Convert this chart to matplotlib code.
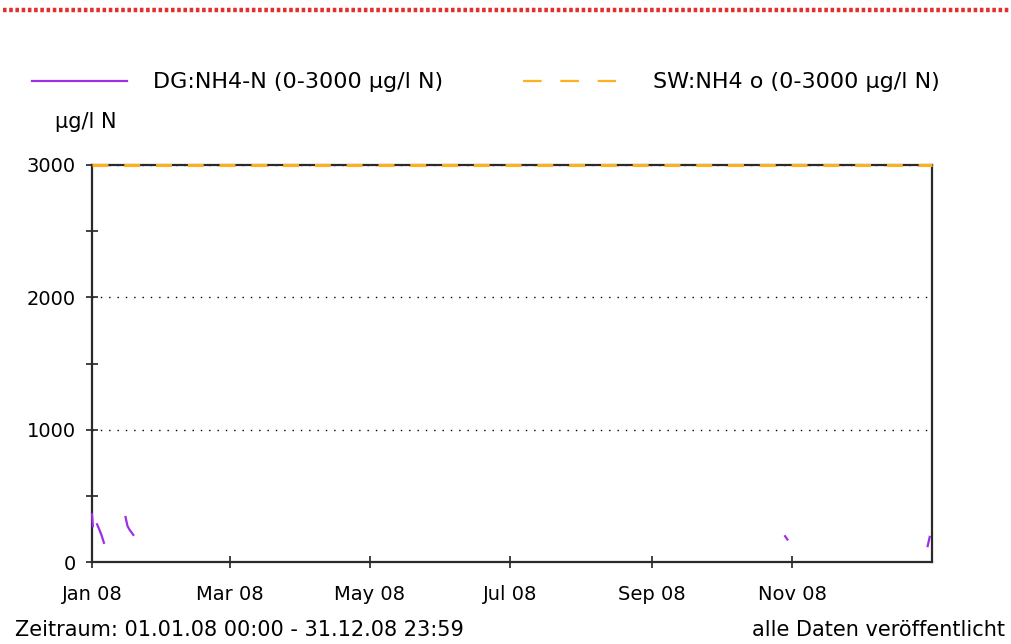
import numpy as np
import pandas as pd
import matplotlib
matplotlib.use('Agg')
import matplotlib.pyplot as plt
import matplotlib.dates as mdates
from matplotlib.lines import Line2D

# ==========================================
# Data
# ==========================================
start = pd.Timestamp('2008-01-01 00:00')
end = pd.Timestamp('2008-12-31 23:59')

# DG:NH4-N, days since 01.01.08, NaN = gap in the record
dg_days = [0.0, 0.4, np.nan, 2.2, 3.2, 4.2, 5.2, np.nan,
           14.6, 15.5, 16.5, 18.0, np.nan, 302.0, 303.0, np.nan, 364.1, 365.0]
dg_vals = [360, 270, np.nan, 285, 245, 200, 145, np.nan,
           340, 270, 240, 205, np.nan, 195, 170, np.nan, 120, 190]

# SW:NH4 o threshold
sw_dates = [start, end]
sw_vals = [3000, 3000]

y_major = [0, 1000, 2000, 3000]
y_minor = [500, 1500, 2500]
tick_months = [1, 3, 5, 7, 9, 11]

label_dg = 'DG:NH4-N (0-3000 µg/l N)'
label_sw = 'SW:NH4 o (0-3000 µg/l N)'
unit_label = 'µg/l N'
period_text = 'Zeitraum: 01.01.08 00:00 - 31.12.08 23:59'
status_text = 'alle Daten veröffentlicht'

# ==========================================
# Plot
# ==========================================
plt.rcParams['font.family'] = ['DejaVu Sans']
FS = 15      # footer text
FS_LEG = 16  # legend text
FS_TICK = 14

W, H = 1011, 644
fig = plt.figure(figsize=(W / 100, H / 100), dpi=100)
ax = fig.add_axes([92 / W, 1 - 562 / H, (932 - 92) / W, (562 - 165) / H])

dg_x = mdates.date2num(start) + np.array(dg_days, dtype=float)
ax.plot(dg_x, dg_vals, color='#9b30e8', lw=1.6, clip_on=False, zorder=6)
ax.plot(sw_dates, sw_vals, color='#ffb020', lw=2.2, dashes=(5.2, 5.2), clip_on=False, zorder=5)

ax.set_xlim(start, end)
ax.set_ylim(0, 3000)
ax.xaxis.set_major_locator(mdates.MonthLocator(bymonth=tick_months))
ax.xaxis.set_major_formatter(mdates.DateFormatter('%b %y'))
ax.set_yticks(y_major)
ax.set_yticks(y_minor, minor=True)
ax.yaxis.grid(True, linestyle=(0, (1, 5)), color='black', lw=1.0)

for s in ax.spines.values():
    s.set_color('#2a2a2a')
    s.set_linewidth(1.6)
ax.tick_params(which='both', direction='inout', color='#222222', width=1.2,
               labelsize=FS_TICK, length=9)
ax.tick_params(axis='x', pad=12)
ax.tick_params(axis='y', pad=7)

# legend drawn by hand at the top
fig.add_artist(Line2D([32 / W, 127 / W], [1 - 81 / H] * 2, color='#9b30e8', lw=1.6))
fig.text(153 / W, 1 - 82 / H, label_dg, fontsize=FS_LEG, va='center', ha='left')
fig.add_artist(Line2D([523 / W, 616 / W], [1 - 81 / H] * 2, color='#ffb020', lw=1.6,
                      dashes=(8.4, 8.4)))
fig.text(653 / W, 1 - 82 / H, label_sw, fontsize=FS_LEG, va='center', ha='left')
fig.text(55 / W, 1 - 122 / H, unit_label, fontsize=FS, va='center', ha='left')

fig.text(15 / W, 1 - 630 / H, period_text, fontsize=FS, va='center', ha='left')
fig.text(1005 / W, 1 - 630 / H, status_text, fontsize=FS, va='center', ha='right')

# red dotted rule at the very top
fig.add_artist(Line2D([3 / W, 1.0], [1 - 9.5 / H] * 2, color='#e03030', lw=3.2,
                      dashes=(0.8, 0.6)))

fig.savefig('out.png', dpi=100)
